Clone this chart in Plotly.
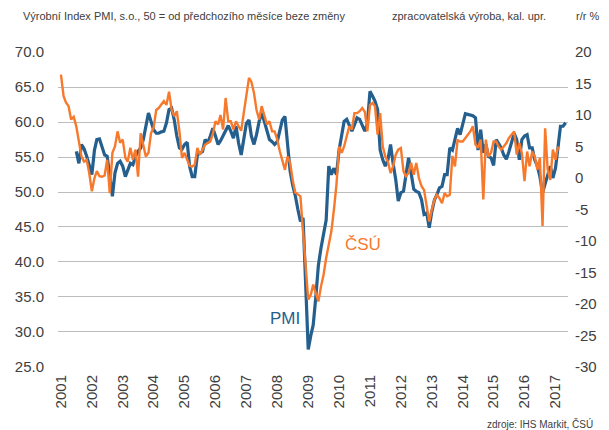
import pandas as pd
import plotly.graph_objects as go

# ---- data (monthly) ----
# PMI output index, Jul 2001 .. May 2017
pmi_start = "2001-07-01"
pmi = [
    55.8, 54.1, 56.8, 56.2, 55.1, 54.0,
    52.5, 56.0, 57.5, 57.6, 56.5, 55.3, 55.1, 51.8, 49.4, 52.7, 54.1, 54.4,
    53.7, 52.2, 53.2, 54.1, 53.9, 55.1, 55.8, 56.3, 57.5, 59.5, 61.3, 60.1,
    58.9, 58.4, 58.4, 58.6, 58.7, 59.9, 61.8, 62.0, 60.3, 58.0, 56.3, 56.1,
    56.8, 57.1, 53.7, 52.2, 52.2, 55.3, 55.6, 55.8, 57.5, 57.0, 58.0, 59.1,
    58.0, 56.8, 57.3, 58.0, 58.7, 59.5, 58.7, 57.7, 59.4, 57.0, 55.3, 57.7,
    59.8, 60.3, 58.0, 56.8, 58.2, 60.1, 61.3, 60.1, 58.9, 57.5, 57.2, 56.8,
    57.2, 59.1, 60.3, 60.8, 56.5, 53.0, 51.0, 49.5, 47.5, 45.8, 46.3, 37.0,
    27.5, 29.5, 31.0, 35.0, 39.5, 42.0, 44.0, 46.0, 53.7, 52.5, 53.4, 52.5,
    56.0, 58.0, 60.1, 60.4, 59.4, 58.7, 59.6, 60.6, 60.4, 59.6, 58.7, 59.8,
    64.4, 63.7, 63.0, 61.8, 56.0, 54.6, 53.7, 54.6, 56.8, 54.1, 51.8, 48.7,
    49.9, 50.1, 52.5, 54.9, 52.7, 50.4, 50.1, 49.9, 48.9, 46.8, 47.0, 44.9,
    47.2, 48.9, 49.6, 50.6, 50.8, 52.5, 52.5, 56.3, 56.0, 57.5, 59.1, 58.2,
    59.6, 61.2, 61.1, 61.0, 60.9, 60.6, 56.0, 58.9, 55.6, 56.8, 55.1, 54.9,
    53.8, 57.5, 57.0, 56.3, 55.3, 54.7, 55.8, 57.0, 58.4, 57.5, 54.6, 57.5,
    58.0, 58.2, 56.3, 56.3, 54.6, 53.7, 52.2, 49.9, 51.3, 52.7, 53.7, 52.0,
    53.4, 56.5, 59.4, 59.4, 59.9,
]
# CSU manufacturing output, y/y %, Jan 2001 .. Feb 2017
csu_start = "2001-01-01"
csu = [
    16.4, 13.0, 12.0, 11.4, 9.3, 9.7, 8.2, 5.6, 3.4, 2.6, 2.9, 0.8,
    -2.1, 0.0, 1.1, 0.3, 0.2, 0.4, 2.9, -2.4, 4.0, 5.0, 7.4, 5.6,
    6.1, 3.2, 2.6, 4.8, 2.9, 4.5, 0.2, 7.1, 5.0, 3.4, 4.0, 7.1,
    8.0, 10.8, 11.1, 11.6, 12.2, 11.6, 13.7, 10.8, 9.8, 10.6, 7.4, 3.2,
    4.0, 2.9, 1.95, 1.85, 2.1, 4.76, 3.7, 4.5, 5.3, 5.55, 5.8, 7.0,
    9.0, 8.5, 10.0, 7.7, 12.7, 9.0, 9.0, 7.7, 9.0, 8.2, 7.5, 10.3,
    13.5, 15.9, 15.3, 13.5, 10.8, 9.3, 11.4, 10.0, 8.5, 9.0, 7.4, 7.4,
    6.1, 4.2, 2.6, 1.3, 3.4, 2.4, -0.3, -2.3, -2.6, -2.9, -8.5, -14.0,
    -19.3, -18.5, -16.9, -18.3, -19.6, -17.2, -15.4, -12.7, -10.6, -8.5, -5.0, -1.0,
    5.0, 4.0, 5.0, 6.6, 8.2, 7.7, 10.3, 10.3, 10.6, 11.1, 10.5, 7.4,
    11.6, 11.9, 11.4, 6.9, 10.3, 5.0, 3.4, 2.6, 0.8, 1.85, 3.7, 4.5,
    4.76, 1.06, 0.26, 0.8, 2.4, 0.53, 2.4, 0.0, -1.3, -1.9, -4.5, -6.9,
    -5.0, -3.4, -2.65, -3.2, -4.0, -2.4, -2.9, -2.65, 3.5, 1.85, 6.0, 5.8,
    5.8, 6.35, 6.9, 7.4, 8.2, 5.3, 4.8, 6.1, -3.4, 6.1, 3.4, 4.0,
    5.8, 5.8, 5.0, 4.5, 5.0, 5.55, 6.35, 6.9, 7.4, 3.7, 5.55, 3.9,
    -0.5, 4.2, 1.85, 4.2, 3.4, 1.3, 3.2, -7.6, 7.9, 1.3, -0.3, 4.5,
    2.9, 5.0,
]
years = [str(y) for y in range(2001, 2018)]
left_ticks = [25, 30, 35, 40, 45, 50, 55, 60, 65, 70]
right_ticks = [20, 15, 10, 5, 0, -5, -10, -15, -20, -25, -30]
right_tick_text = [str(v) for v in right_ticks]

pmi_dates = pd.date_range(pmi_start, periods=len(pmi), freq="MS")
csu_dates = pd.date_range(csu_start, periods=len(csu), freq="MS")

FONT = "Liberation Sans, Arial, sans-serif"
TXT = "#404040"
BLUE = "#245f8e"
ORANGE = "#f7792c"

fig = go.Figure()
fig.add_trace(go.Scatter(x=pmi_dates, y=pmi, mode="lines", name="PMI",
                         line=dict(color=BLUE, width=3.2), yaxis="y"))
fig.add_trace(go.Scatter(x=csu_dates, y=csu, mode="lines", name="ČSÚ",
                         line=dict(color=ORANGE, width=2.4), yaxis="y2"))

fig.update_layout(
    width=609, height=430,
    margin=dict(l=58, r=36, t=52, b=63),
    paper_bgcolor="white", plot_bgcolor="white",
    showlegend=False,
    font=dict(family=FONT, color=TXT, size=15),
    xaxis=dict(
        type="date", range=["2000-11-27", "2017-05-29"],
        tickvals=[f"{y}-01-01" for y in years], ticktext=years,
        tickangle=-90, tickfont=dict(size=15, color=TXT),
        showgrid=False, zeroline=False, showline=False,
        ticks="", ticklabelstandoff=4,
    ),
    yaxis=dict(
        range=[24.98, 70.02], tickvals=left_ticks, tickformat=".1f",
        showgrid=True, gridcolor="#bdbdbd", gridwidth=1,
        zeroline=False, showline=False, ticks="",
        tickfont=dict(size=15, color=TXT), ticklabelstandoff=13,
    ),
    yaxis2=dict(
        range=[-30, 20], overlaying="y", side="right",
        tickvals=right_ticks, ticktext=right_tick_text,
        showgrid=False, zeroline=False, showline=False, ticks="",
        tickfont=dict(size=15, color=TXT), ticklabelstandoff=6,
    ),
)

ann = [
    dict(text="Výrobní Index PMI, s.o., 50 = od předchozího měsíce beze změny",
         x=-0.072, y=1.115, xanchor="left", font=dict(size=11, color=TXT)),
    dict(text="zpracovatelská výroba, kal. upr.", x=0.961, y=1.115,
         xanchor="right", font=dict(size=11, color=TXT)),
    dict(text="r/r %", x=1.064, y=1.115, xanchor="right",
         font=dict(size=11, color=TXT)),
    dict(text="PMI", x=0.4447, y=0.153, xanchor="center",
         font=dict(size=17, color=BLUE)),
    dict(text="ČSÚ", x=0.598, y=0.388, xanchor="center",
         font=dict(size=17, color=ORANGE)),
    dict(text="zdroje: IHS Markit, ČSÚ", x=1.052, y=-0.181, xanchor="right",
         font=dict(size=10, color=TXT)),
]
for a in ann:
    fig.add_annotation(xref="paper", yref="paper", showarrow=False,
                       yanchor="middle", **a)

fig.write_html("out.html", config={"displayModeBar": False},
               post_script="document.body.style.margin='0px';document.body.style.overflow='hidden';")
